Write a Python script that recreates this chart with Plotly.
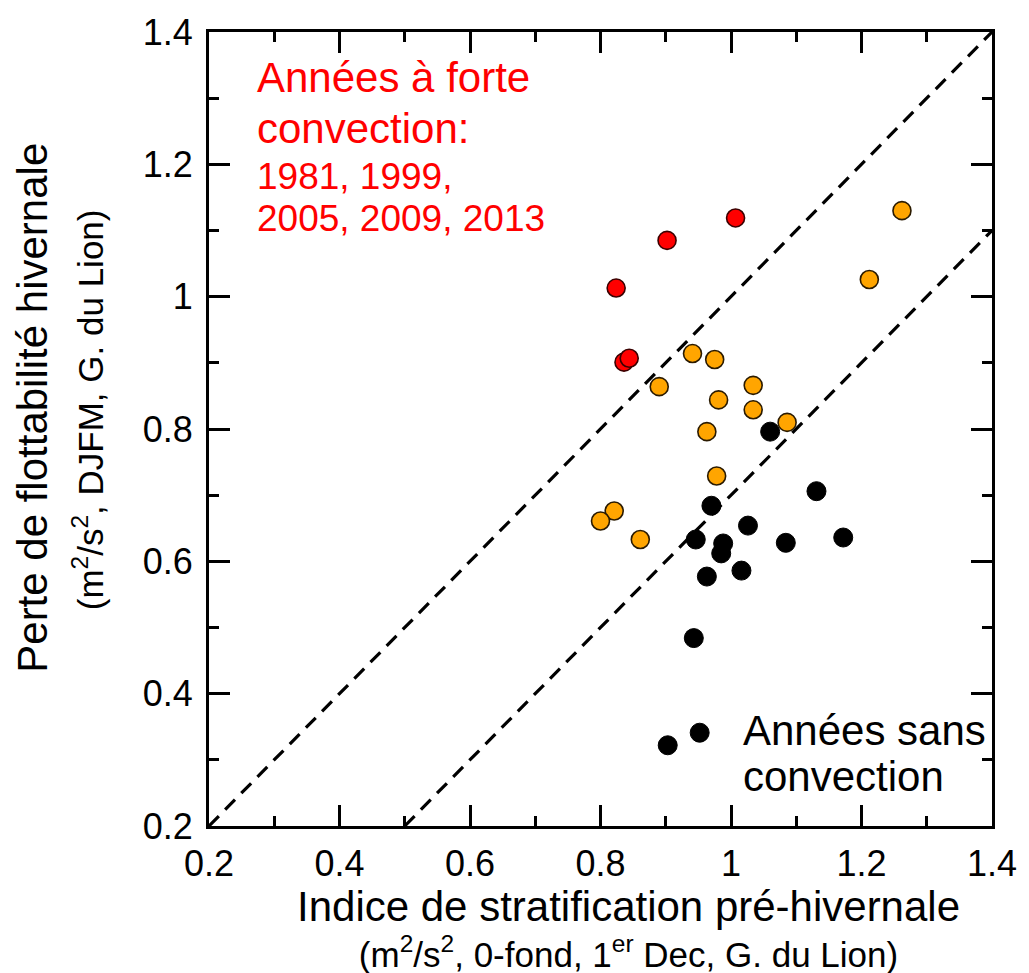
import plotly.graph_objects as go

# ---- data ----
x_black = [1.060, 1.131, 0.970, 1.026, 0.946, 0.988, 0.985, 1.084, 1.172, 0.963, 1.016, 0.943, 0.952, 0.903]
y_black = [0.796, 0.706, 0.684, 0.654, 0.633, 0.627, 0.612, 0.628, 0.636, 0.577, 0.586, 0.484, 0.341, 0.322]

x_orange = [0.941, 0.975, 0.890, 1.034, 0.981, 1.034, 1.086, 0.963, 0.978, 0.821, 0.800, 0.861, 1.262, 1.212]
y_orange = [0.914, 0.905, 0.864, 0.866, 0.844, 0.829, 0.810, 0.796, 0.729, 0.676, 0.661, 0.633, 1.130, 1.026]

x_red = [0.824, 0.902, 1.007, 0.836, 0.844]
y_red = [1.013, 1.085, 1.119, 0.901, 0.907]

line1_x = [0.2, 1.4]
line1_y = [0.2, 1.4]
line2_x = [0.5, 1.4]
line2_y = [0.2, 1.1]

tick_vals = [0.2, 0.4, 0.6, 0.8, 1.0, 1.2, 1.4]
tick_text = ["0.2", "0.4", "0.6", "0.8", "1", "1.2", "1.4"]

FONT = "Liberation Sans, Arial, Helvetica, sans-serif"

fig = go.Figure()
dash = "14px,9px"
fig.add_trace(go.Scatter(x=line1_x, y=line1_y, mode="lines",
                         line=dict(color="black", width=3.2, dash=dash), hoverinfo="skip"))
fig.add_trace(go.Scatter(x=line2_x, y=line2_y, mode="lines",
                         line=dict(color="black", width=3.2, dash=dash), hoverinfo="skip"))
fig.add_trace(go.Scatter(x=x_black, y=y_black, mode="markers",
                         marker=dict(size=19, color="black", line=dict(color="black", width=1))))
fig.add_trace(go.Scatter(x=x_orange, y=y_orange, mode="markers",
                         marker=dict(size=18, color="#FFA500", line=dict(color="#2a1a00", width=1.6))))
fig.add_trace(go.Scatter(x=x_red, y=y_red, mode="markers",
                         marker=dict(size=18, color="#FF0000", line=dict(color="#3a0000", width=1.6))))

axis_common = dict(
    range=[0.2, 1.4], tickvals=tick_vals, ticktext=tick_text,
    showgrid=False, zeroline=False, showline=True, linecolor="black", linewidth=3,
    mirror="allticks", ticks="inside", ticklen=21, tickwidth=3, tickcolor="black",
    minor=dict(ticks="inside", ticklen=10, tickwidth=3, tickcolor="black", dtick=0.1, showgrid=False),
    tickfont=dict(family=FONT, size=36, color="black"),
)

L, R, T, B = 209, 30, 26, 147
W, H = 1029, 973
pw, ph = W - L - R, H - T - B

def px(x):
    return (x - L) / pw

def py(y):
    return (H - B - y) / ph

fig.update_layout(
    width=W, height=H,
    margin=dict(l=L, r=R, t=T, b=B),
    plot_bgcolor="white", paper_bgcolor="white",
    showlegend=False,
    xaxis=dict(**axis_common, ticklabelstandoff=4),
    yaxis=dict(**axis_common, ticklabelstandoff=6),
    font=dict(family=FONT, color="black"),
)

anns = [
    dict(text="Années à forte", x=px(255), y=py(72), size=42, color="#FF0000", xanchor="left"),
    dict(text="convection:", x=px(255), y=py(123), size=42, color="#FF0000", xanchor="left"),
    dict(text="1981, 1999,", x=px(255), y=py(172), size=37, color="#FF0000", xanchor="left"),
    dict(text="2005, 2009, 2013", x=px(255), y=py(214), size=37, color="#FF0000", xanchor="left"),
    dict(text="Années sans", x=px(746), y=py(730), size=42, color="black", xanchor="left"),
    dict(text="convection", x=px(746), y=py(776), size=42, color="black", xanchor="left"),
    dict(text=("<span style='font-size:42px'>Indice de stratification pré-hivernale</span><br>"
               "(m<sup>2</sup>/s<sup>2</sup>, 0-fond, 1<sup>er</sup> Dec, G. du Lion)"),
         x=px(632), y=py(929), size=35, color="black", xanchor="center"),
]
for a in anns:
    fig.add_annotation(text=a["text"], x=a["x"], y=a["y"], xref="paper", yref="paper",
                       xanchor=a["xanchor"], yanchor="middle", showarrow=False,
                       font=dict(family=FONT, size=a["size"], color=a["color"]))

fig.add_annotation(text="Perte de flottabilité hivernale", x=px(31), y=py(405), xref="paper", yref="paper",
                   xanchor="center", yanchor="middle", showarrow=False, textangle=-90,
                   font=dict(family=FONT, size=42, color="black"))
fig.add_annotation(text="(m<sup>2</sup>/s<sup>2</sup>, DJFM, G. du Lion)", x=px(87), y=py(407), xref="paper", yref="paper",
                   xanchor="center", yanchor="middle", showarrow=False, textangle=-90,
                   font=dict(family=FONT, size=35, color="black"))

fig.write_html("out.html")
